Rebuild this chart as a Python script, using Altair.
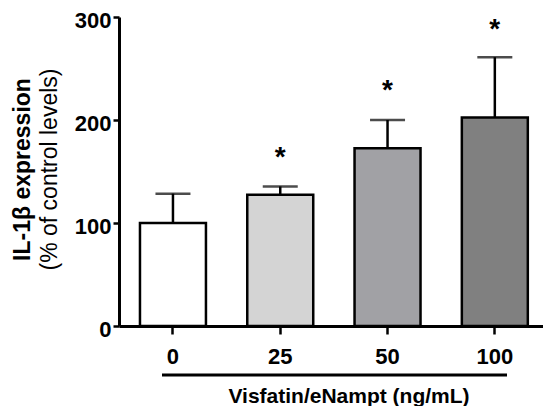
import altair as alt
import pandas as pd

doses = ["0", "25", "50", "100"]
means = [100, 127.5, 172.5, 202.5]
upper = [128.5, 135.5, 200, 261]
bar_colors = ["#ffffff", "#d4d4d4", "#a1a1a5", "#808080"]

star_doses = ["25", "50", "100"]
star_y = [170, 235, 294]
star_text = ["*", "*", "*"]

y_title_bold = ["IL-1β expression"]
y_title_normal = "(% of control levels)"
x_title = "Visfatin/eNampt (ng/mL)"
y_ticks = [0, 100, 200, 300]

df = pd.DataFrame({"dose": doses, "mean": means, "upper": upper})
df_star = pd.DataFrame({"dose": star_doses, "y": star_y, "t": star_text})
df_title = pd.DataFrame({"t": y_title_bold})

FONT = "Liberation Sans"

x_enc = alt.X(
    "dose:N",
    sort=doses,
    scale=alt.Scale(paddingInner=0.385, paddingOuter=0.1685, align=0.58),
    axis=alt.Axis(
        labelAngle=0, labelFontSize=22, labelFontWeight="bold", labelColor="black",
        labelPadding=12, tickSize=8, tickWidth=2.5, tickColor="black",
        domainWidth=3, domainColor="black",
        title=x_title, titleFontSize=21, titleFontWeight="bold", titleColor="black",
        titleX=229.5, titleY=76, titleBaseline="alphabetic", titleAlign="center",
    ),
)
y_scale = alt.Scale(domain=[0, 300], nice=False)
y_enc = alt.Y(
    "mean:Q",
    scale=y_scale,
    axis=alt.Axis(
        values=y_ticks, grid=False, labelFontSize=22, labelFontWeight="bold",
        labelColor="black", labelPadding=2, labelOffset=3, tickSize=6, tickWidth=2.5,
        tickColor="black", domainWidth=3, domainColor="black",
        title=y_title_normal, titleFontSize=23, titleFontWeight="normal", titleColor="black",
        titleX=-63, titleY=152, titleAngle=270, titleBaseline="alphabetic", titleAlign="center",
    ),
)

base = alt.Chart(df)

err = base.mark_rule(color="black", strokeWidth=2.5).encode(
    x=x_enc, y=alt.Y("mean:Q", scale=y_scale), y2="upper:Q"
)
bars = base.mark_bar(stroke="black", strokeWidth=2.5).encode(
    x=x_enc,
    y=y_enc,
    color=alt.Color("dose:N", scale=alt.Scale(domain=doses, range=bar_colors), legend=None),
)
caps = base.mark_tick(color="black", thickness=2.5, size=35).encode(
    x=x_enc, y=alt.Y("upper:Q", scale=y_scale)
)
stars = alt.Chart(df_star).mark_text(
    fontSize=28, fontWeight="bold", color="black", baseline="middle", dy=7
).encode(x=x_enc, y=alt.Y("y:Q", scale=y_scale), text="t:N")

ytitle = alt.Chart(df_title).mark_text(
    angle=270, fontSize=23, fontWeight="bold", color="black",
    baseline="alphabetic", align="center",
).encode(x=alt.value(-89), y=alt.value(152.5), text="t:N")

bracket = alt.Chart(df_title).mark_rule(color="black", strokeWidth=3).encode(
    x=alt.value(43), x2=alt.value(388), y=alt.value(358)
)

chart = (
    alt.layer(err, bars, caps, stars, ytitle, bracket)
    .properties(
        width=424, height=309,
        autosize=alt.AutoSizeParams(type="none"),
        padding={"left": 111, "top": 9, "right": 0, "bottom": 80},
    )
    .configure(font=FONT)
    .configure_view(stroke=None)
)

chart.save("out.html", embed_options={"renderer": "svg", "actions": False})
